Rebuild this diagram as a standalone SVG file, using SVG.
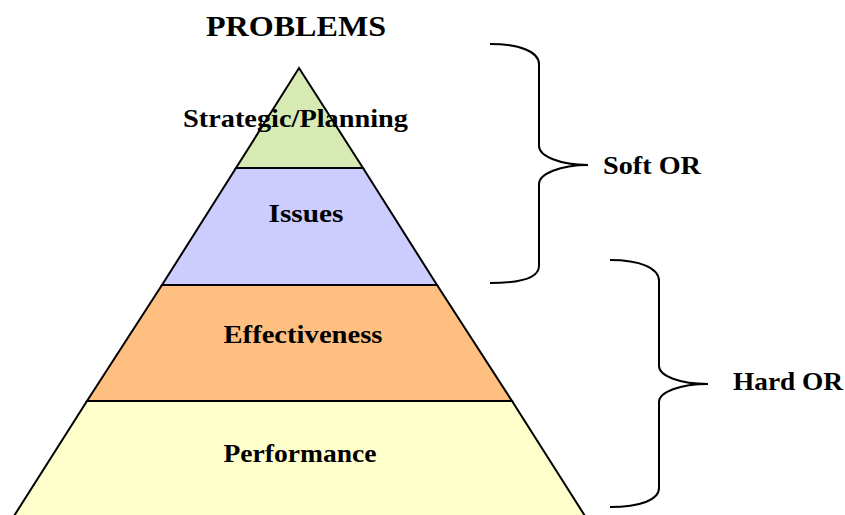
<svg xmlns="http://www.w3.org/2000/svg" width="845" height="515" viewBox="0 0 845 515">
<style>
.layer{stroke:#000;stroke-width:2;stroke-linejoin:miter}
.brace{fill:none;stroke:#000;stroke-width:2}
.t{font-family:"Liberation Serif","Times New Roman",serif;font-weight:bold;fill:#000}
.lbl{font-size:25px}
</style>
<rect width="845" height="515" fill="#fff"/>
<text class="t" x="296" y="36" font-size="30" text-anchor="middle" textLength="180" lengthAdjust="spacingAndGlyphs">PROBLEMS</text>
<g id="performance">
<polygon class="layer" points="87,401 512,401 585,516 14,516" fill="#FFFFCC"/>
<text class="t lbl" x="300" y="462" text-anchor="middle" textLength="153" lengthAdjust="spacingAndGlyphs">Performance</text>
</g>
<g id="effectiveness">
<polygon class="layer" points="162,285 437,285 512,401 87,401" fill="#FFBF80"/>
<text class="t lbl" x="303" y="343" text-anchor="middle" textLength="159" lengthAdjust="spacingAndGlyphs">Effectiveness</text>
</g>
<g id="issues">
<polygon class="layer" points="236,168 363,168 437,285 162,285" fill="#CCCCFF"/>
<text class="t lbl" x="306" y="222" text-anchor="middle" textLength="75" lengthAdjust="spacingAndGlyphs">Issues</text>
</g>
<g id="strategic">
<polygon class="layer" points="299,68 363,168 236,168" fill="#D7EAB4"/>
<text class="t lbl" x="295.5" y="127" text-anchor="middle" textLength="225" lengthAdjust="spacingAndGlyphs">Strategic/Planning</text>
</g>
<g id="connectors">
<path class="brace" d="M490,44 C520,44 539,52 539,64 L539,146 C539,156 560,165 588,165 C560,165 539,174 539,184 L539,266 C539,278 520,283 490,283"/>
<path class="brace" d="M610,260 C640,260 659,268 659,281 L659,366 C659,376 680,384 708,384 C680,384 659,392 659,402 L659,488 C659,500 640,507 610,507"/>
</g>
<g id="soft-or"><text class="t lbl" x="652" y="174" text-anchor="middle" textLength="98" lengthAdjust="spacingAndGlyphs">Soft OR</text></g>
<g id="hard-or"><text class="t lbl" x="788" y="390" text-anchor="middle" textLength="110" lengthAdjust="spacingAndGlyphs">Hard OR</text></g>
</svg>
